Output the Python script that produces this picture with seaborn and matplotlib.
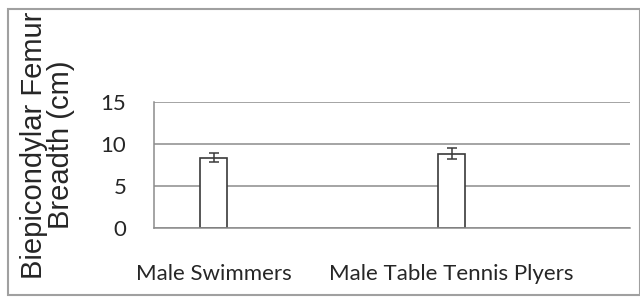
import numpy as np
import pandas as pd
import matplotlib.pyplot as plt
import seaborn as sns
from matplotlib.patches import Rectangle

# ===== dados =====
categorias = ["Male Swimmers", "", "Male Table Tennis Plyers", " "]
grupos = ["Male Swimmers", "Male Table Tennis Plyers"]
media = [8.4, 8.9]
desvio = [0.55, 0.65]
y_ticks = [0, 5, 10, 15]
y_label = "Biepicondylar Femur\nBreadth (cm)"

df = pd.DataFrame({"grupo": grupos, "femur": media})

sns.set_style("white")
plt.rcParams["font.family"] = ["Lato", "DejaVu Sans"]

fig = plt.figure(figsize=(6.4, 2.97), dpi=100)
ax = fig.add_axes([154 / 640, 1 - 228.3 / 297, 476 / 640, 126 / 297])

sns.barplot(data=df, x="grupo", y="femur", order=categorias, width=0.235,
            color="white", edgecolor="#3a3a3a", linewidth=1.2, errorbar=None, ax=ax)

# barras de erro a partir das barras desenhadas
barras = [p for p in ax.patches if p.get_height() > 0]
xs = [p.get_x() + p.get_width() / 2 for p in barras]
ax.errorbar(xs, media, yerr=desvio, fmt="none", ecolor="#3a3a3a",
            elinewidth=1.1, capsize=3.5, capthick=1.1, zorder=5)

ax.set_ylim(0, 15)
ax.set_xlim(-0.5, len(categorias) - 0.5)
ax.set_yticks(y_ticks)
ax.set_yticklabels([str(t) for t in y_ticks], fontsize=16)
ax.yaxis.grid(True, color="#8c8c8c", linewidth=1.1)
ax.set_axisbelow(True)

# ticks nas fronteiras das categorias, rótulos no centro
ax.set_xticks(np.arange(-0.5, len(categorias), 1.0))
ax.set_xticklabels([])
ax.set_xticks(range(len(categorias)), minor=True)
ax.set_xticklabels(categorias, minor=True, fontsize=16)
ax.tick_params(axis="x", which="major", length=7, color="#8c8c8c", width=1.1, direction="out")
ax.tick_params(axis="x", which="minor", length=0, pad=26)
ax.tick_params(axis="y", length=7, color="#8c8c8c", width=1.1, direction="out", pad=13)
ax.set_xlabel("")
ax.set_ylabel(y_label, fontsize=21, family=["Liberation Sans", "DejaVu Sans"],
              linespacing=0.98)
ax.yaxis.set_label_coords(-0.165, 0.66)

for lado in ["top", "right"]:
    ax.spines[lado].set_visible(False)
ax.spines["left"].set_color("#8c8c8c")
ax.spines["bottom"].set_color("#8c8c8c")
ax.spines["left"].set_linewidth(1.1)
ax.spines["bottom"].set_linewidth(1.1)

# moldura do gráfico
fig.patches.append(Rectangle((8 / 640, 2 / 297), 632 / 640, 286 / 297, transform=fig.transFigure,
                             fill=False, edgecolor="#a0a0a0", linewidth=1.5))

fig.savefig("out.png", dpi=100)
